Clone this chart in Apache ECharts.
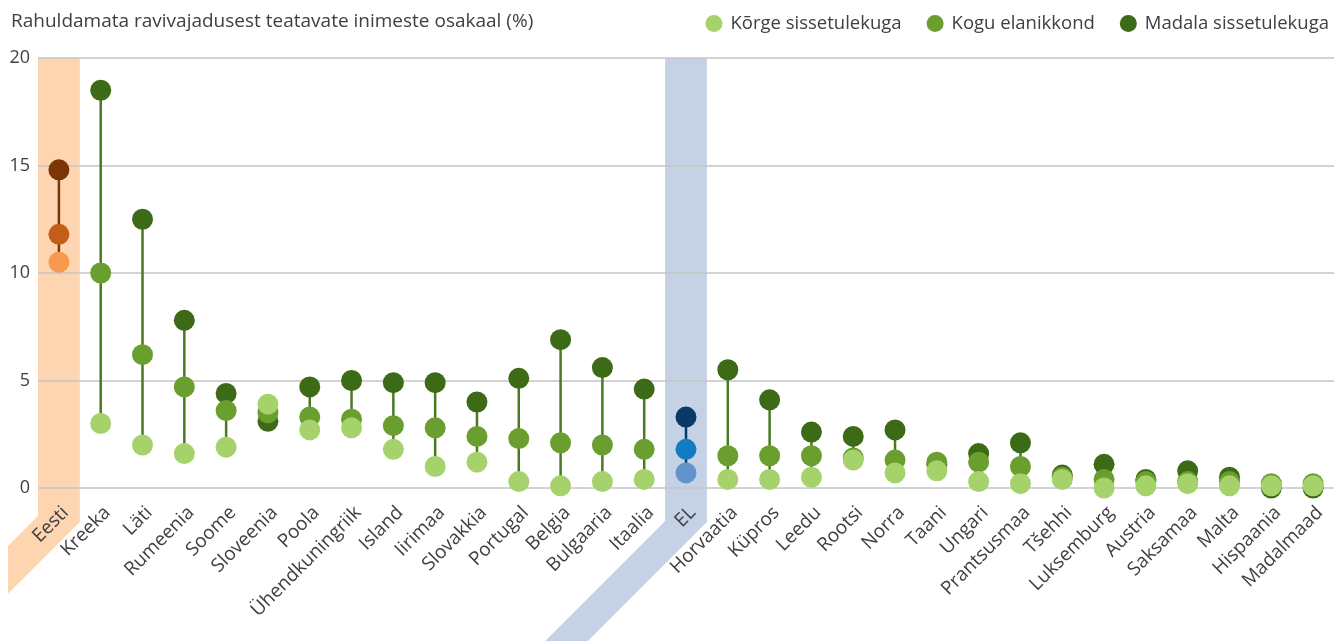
<!DOCTYPE html>
<html>
<head>
<meta charset="utf-8">
<script src="https://cdn.jsdelivr.net/npm/echarts@6/dist/echarts.min.js"></script>
<style>
  html, body { margin: 0; padding: 0; background: #fff; }
  #main { width: 1334px; height: 641px; }
</style>
</head>
<body>
<div id="main"></div>
<script>
// riigid
var categories = ["Eesti", "Kreeka", "Läti", "Rumeenia", "Soome", "Sloveenia", "Poola", "Ühendkuningriik",
  "Island", "Iirimaa", "Slovakkia", "Portugal", "Belgia", "Bulgaaria", "Itaalia", "EL", "Horvaatia",
  "Küpros", "Leedu", "Rootsi", "Norra", "Taani", "Ungari", "Prantsusmaa", "Tšehhi", "Luksemburg",
  "Austria", "Saksamaa", "Malta", "Hispaania", "Madalmaad"];

// Madala sissetulekuga
var lowIncome = [14.8, 18.5, 12.5, 7.8, 4.4, 3.1, 4.7, 5.0, 4.9, 4.9, 4.0, 5.1, 6.9, 5.6, 4.6, 3.3, 5.5,
  4.1, 2.6, 2.4, 2.7, 1.1, 1.6, 2.1, 0.6, 1.1, 0.4, 0.8, 0.5, 0.0, 0.0];
// Kogu elanikkond
var total = [11.8, 10.0, 6.2, 4.7, 3.6, 3.5, 3.3, 3.2, 2.9, 2.8, 2.4, 2.3, 2.1, 2.0, 1.8, 1.8, 1.5,
  1.5, 1.5, 1.4, 1.3, 1.2, 1.2, 1.0, 0.5, 0.4, 0.3, 0.3, 0.3, 0.2, 0.2];
// Kõrge sissetulekuga
var highIncome = [10.5, 3.0, 2.0, 1.6, 1.9, 3.9, 2.7, 2.8, 1.8, 1.0, 1.2, 0.3, 0.1, 0.3, 0.4, 0.7, 0.4,
  0.4, 0.5, 1.3, 0.7, 0.8, 0.3, 0.2, 0.4, 0.0, 0.1, 0.2, 0.1, 0.1, 0.1];

var yTicks = [0, 5, 10, 15, 20];

var names = { high: "Kõrge sissetulekuga", total: "Kogu elanikkond", low: "Madala sissetulekuga" };

// värvid: [madal, kogu, kõrge, joon]
var colors = {
  def: ["#3d6a17", "#6a9e2f", "#a6d26b", "#4a7a20"],
  Eesti: ["#7a3604", "#c25e17", "#f7994f", "#7a3604"],
  EL: ["#073a64", "#117cc1", "#6294cb", "#073a64"]
};
function col(i, k) {
  var c = colors[categories[i]] || colors.def;
  return c[k];
}

function pts(arr, k) {
  return arr.map(function (v, i) {
    return { value: v, itemStyle: { color: col(i, k) } };
  });
}

var stems = categories.map(function (c, i) {
  var vals = [lowIncome[i], total[i], highIncome[i]];
  return [i, Math.min.apply(null, vals), Math.max.apply(null, vals)];
});

var chart = echarts.init(document.getElementById("main"));
var font = "'Open Sans', sans-serif";
var txt = "#404040";

chart.setOption({
  animation: false,
  textStyle: { fontFamily: font },
  title: {
    text: "Rahuldamata ravivajadusest teatavate inimeste osakaal (%)",
    left: 6,
    top: 7,
    textStyle: { fontFamily: font, fontSize: 19, fontWeight: "normal", color: txt }
  },
  legend: {
    data: [names.high, names.total, names.low],
    right: 0,
    top: 9,
    icon: "circle",
    itemWidth: 17,
    itemHeight: 17,
    itemGap: 25,
    textStyle: { fontFamily: font, fontSize: 18.5, color: txt, padding: [0, 0, 0, 3] }
  },
  grid: {
    left: 38,
    right: 0,
    top: 58,
    bottom: 153,
    containLabel: false,
    outerBoundsMode: "none"
  },
  xAxis: {
    type: "category",
    data: categories,
    axisLine: { show: false },
    axisTick: { show: false },
    axisLabel: {
      interval: 0,
      rotate: 45,
      margin: 15,
      verticalAlign: "top",
      fontFamily: font,
      fontSize: 19,
      color: txt
    }
  },
  yAxis: {
    type: "value",
    min: 0,
    max: 20,
    interval: 5,
    axisLine: { show: false },
    axisTick: { show: false },
    axisLabel: {
      margin: 8,
      fontFamily: font,
      fontSize: 18,
      color: txt,
      customValues: yTicks
    },
    splitLine: { lineStyle: { color: "#c4c4c4", width: 1.5 } }
  },
  series: [
    {
      type: "custom",
      name: "stem",
      data: stems,
      z: 1,
      renderItem: function (params, api) {
        var i = api.value(0);
        var a = api.coord([i, api.value(1)]);
        var b = api.coord([i, api.value(2)]);
        return {
          type: "line",
          shape: { x1: a[0], y1: a[1], x2: b[0], y2: b[1] },
          style: { stroke: col(i, 3), lineWidth: 2.5 }
        };
      }
    },
    {
      type: "scatter",
      name: names.low,
      data: pts(lowIncome, 0),
      symbolSize: 21,
      itemStyle: { color: colors.def[0], opacity: 1 },
      clip: false,
      z: 2
    },
    {
      type: "scatter",
      name: names.total,
      data: pts(total, 1),
      symbolSize: 21,
      itemStyle: { color: colors.def[1], opacity: 1 },
      clip: false,
      z: 3
    },
    {
      type: "scatter",
      name: names.high,
      data: pts(highIncome, 2),
      symbolSize: 21,
      itemStyle: { color: colors.def[2], opacity: 1 },
      clip: false,
      z: 4
    }
  ]
});

// taustaribad Eesti ja EL jaoks
function band(name, fill, leftCut) {
  var idx = categories.indexOf(name);
  var cx = chart.convertToPixel({ xAxisIndex: 0 }, idx);
  var bw = chart.convertToPixel({ xAxisIndex: 0 }, 1) - chart.convertToPixel({ xAxisIndex: 0 }, 0);
  var top = chart.convertToPixel({ yAxisIndex: 0 }, 20);
  var zero = chart.convertToPixel({ yAxisIndex: 0 }, 0);
  var l = cx - bw / 2, r = cx + bw / 2;
  var bendR = zero + 34, bendL = zero + 28;
  var p;
  if (leftCut != null) {
    p = [[l, top], [r, top], [r, bendR], [leftCut, bendR + (r - leftCut)],
      [leftCut, bendL + (l - leftCut)], [l, bendL]];
  } else {
    var L = 300;
    p = [[l, top], [r, top], [r, bendR], [r - L, bendR + L], [l - L, bendR - 1 + L], [l, bendR - 1]];
  }
  return { type: "polygon", z: -10, shape: { points: p }, style: { fill: fill } };
}

chart.setOption({
  graphic: { elements: [band("Eesti", "#fdd5b1", 8), band("EL", "#c5d2e5", null)] }
});
</script>
</body>
</html>
